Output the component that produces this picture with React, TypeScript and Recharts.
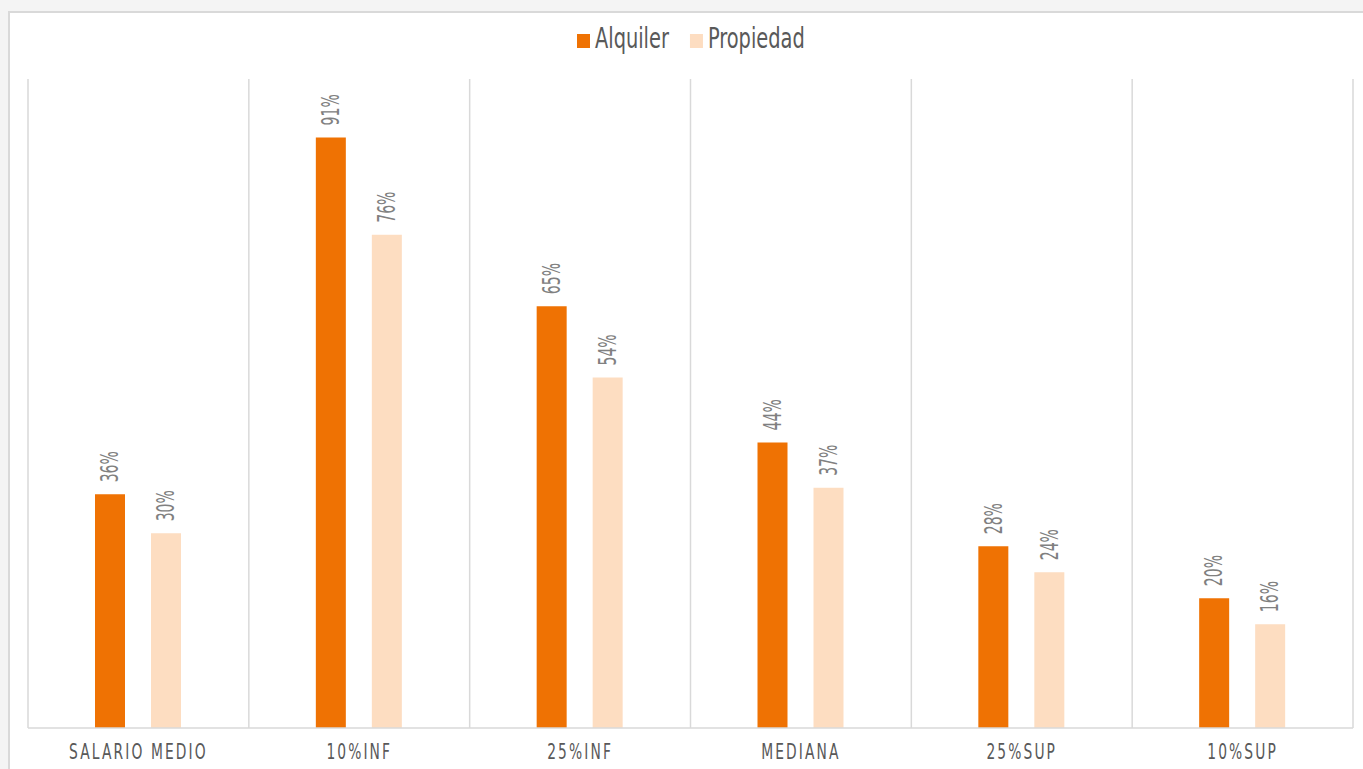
import React from 'react';
import { BarChart, Bar, XAxis, YAxis, CartesianGrid, Legend, LabelList } from 'recharts';

const categories = ['SALARIO MEDIO', '10%INF', '25%INF', 'MEDIANA', '25%SUP', '10%SUP'];
const alquiler = [36, 91, 65, 44, 28, 20];
const propiedad = [30, 76, 54, 37, 24, 16];

const FONT = "'DejaVu Sans Condensed', 'DejaVu Sans', sans-serif";

const data = categories.map((name, i) => ({
  name,
  alquiler: alquiler[i],
  propiedad: propiedad[i],
}));

// the original uses a very narrow font, so the text is squeezed sideways
const measure = (text: string, size: number) => {
  const ctx = document.createElement('canvas').getContext('2d');
  if (!ctx) return text.length * size * 0.5;
  ctx.font = `${size}px ${FONT}`;
  return ctx.measureText(text).width;
};

const RotatedLabel = (props: any) => {
  const { x, y, width, value } = props;
  const cx = x + width / 2;
  const ty = y - 12;
  return (
    <text
      x={0}
      y={0}
      transform={`translate(${cx} ${ty}) rotate(-90) scale(0.65 1)`}
      textAnchor="start"
      dominantBaseline="central"
      fill="#808080"
      fontSize={24}
      fontFamily={FONT}
    >
      {value}%
    </text>
  );
};

const CategoryTick = (props: any) => {
  const { x, y, payload } = props;
  return (
    <text
      x={0}
      y={0}
      transform={`translate(${x} ${y + 23}) scale(0.7 1)`}
      textAnchor="middle"
      fill="#595959"
      fontSize={22}
      letterSpacing={3}
      fontFamily={FONT}
    >
      {payload.value}
    </text>
  );
};

const LegendContent = (props: any) => {
  const { payload } = props;
  const size = 28;
  const squeeze = 0.77;
  let cursor = 0;
  const items = payload.map((entry: any) => {
    const w = measure(entry.value, size) * squeeze;
    const item = { entry, x: cursor, w };
    cursor += 13 + 5 + w + 21;
    return item;
  });
  const total = cursor - 21;
  return (
    <div style={{ height: 54, display: 'flex', justifyContent: 'center' }}>
      <svg width={total} height={32} style={{ overflow: 'visible' }}>
        {items.map(({ entry, x }: any) => (
          <g key={entry.value}>
            <rect x={x} y={9} width={13} height={14} fill={entry.color} />
            <text
              x={0}
              y={0}
              transform={`translate(${x + 18} 23) scale(${squeeze} 1)`}
              fontSize={size}
              fill="#595959"
              fontFamily={FONT}
            >
              {entry.value}
            </text>
          </g>
        ))}
      </svg>
    </div>
  );
};

const gridLines = ({ offset }: any) =>
  categories.map((_, i) => offset.left + (offset.width * i) / categories.length).concat(offset.left + offset.width);

export default function App() {
  return (
    <div style={{ position: 'absolute', left: 0, top: 0, width: 1363, height: 769, background: '#f4f4f4', overflow: 'hidden' }}>
      <div
        style={{
          position: 'absolute',
          left: 8,
          top: 11,
          width: 1400,
          height: 800,
          background: '#ffffff',
          borderTop: '2px solid #d9d9d9',
          borderLeft: '2px solid #d9d9d9',
        }}
      />
      <div style={{ position: 'absolute', left: 0, top: 0 }}>
        <BarChart
          width={1363}
          height={769}
          data={data}
          margin={{ top: 25, right: 10, bottom: 11, left: 28 }}
          barSize={30}
          barGap={26}
        >
          <CartesianGrid horizontal={false} stroke="#d9d9d9" strokeWidth={1.5} verticalCoordinatesGenerator={gridLines} />
          <XAxis
            dataKey="name"
            axisLine={{ stroke: '#d9d9d9', strokeWidth: 1.5 }}
            tickLine={false}
            height={30}
            tick={<CategoryTick />}
            interval={0}
          />
          <YAxis hide domain={[0, 100]} />
          <Legend verticalAlign="top" content={<LegendContent />} />
          <Bar dataKey="alquiler" name="Alquiler" fill="#ef7203" isAnimationActive={false}>
            <LabelList dataKey="alquiler" content={<RotatedLabel />} />
          </Bar>
          <Bar dataKey="propiedad" name="Propiedad" fill="#fdddc1" isAnimationActive={false}>
            <LabelList dataKey="propiedad" content={<RotatedLabel />} />
          </Bar>
        </BarChart>
      </div>
    </div>
  );
}
